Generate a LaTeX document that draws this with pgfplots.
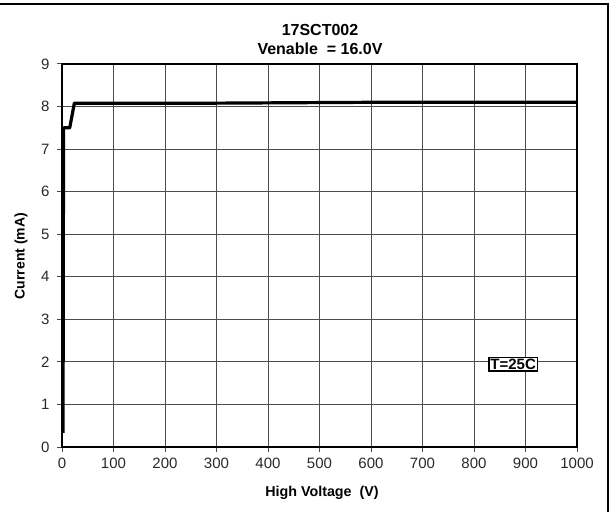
\documentclass[border=0pt]{standalone}
\usepackage{fontspec}
\setmainfont{Liberation Sans}
\usepackage{pgfplots}
\pgfplotsset{compat=1.18}
\definecolor{tickc}{RGB}{40,40,50}
\begin{document}
\begin{tikzpicture}[x=1pt,y=1pt]
\path[use as bounding box] (0,0) rectangle (613,512);
\draw[line width=1.5pt] (0,508) -- (608,508) -- (608,0);
\begin{axis}[
  at={(62pt,65pt)}, anchor=south west,
  width=515pt, height=383pt, scale only axis,
  xmin=0, xmax=1000, ymin=0, ymax=9,
  xtick={0,100,...,1000}, ytick={0,1,...,9},
  grid=major,
  major grid style={gray!60!black, line width=1pt},
  axis line style={black, line width=1.1pt},
  xtick pos=left, ytick pos=left,
  tick align=outside, major tick length=5pt,
  tick style={gray!60!black, line width=1pt},
  /pgf/number format/assume math mode=true,
  /pgf/number format/1000 sep={},
  tick label style={font=\fontsize{15}{17}\selectfont, text=tickc},
  xticklabel style={yshift=-2pt},
  yticklabel style={xshift=-4pt},
  clip=false,
]
\addplot[black, line width=3.2pt, line join=round] coordinates {
  (2,0.33) (3,7.5) (15,7.5) (24,8.08) (26,8.08) (300,8.08) (600,8.1) (1000,8.1)
};
\node[draw=black, line width=1.6pt, fill=white, inner sep=1.5pt,
  font=\fontsize{15}{17}\selectfont\bfseries] at (axis cs:876,1.94) {T=25C};
\end{axis}
\node[font=\fontsize{16}{18}\selectfont\bfseries] at (320,482) {17SCT002};
\node[font=\fontsize{16}{18}\selectfont\bfseries] at (320,463) {Venable\ \ = 16.0V};
\node[font=\fontsize{14.3}{17}\selectfont\bfseries] at (322,19) {High Voltage\ \ (V)};
\node[font=\fontsize{14}{17}\selectfont\bfseries, rotate=90] at (21,256) {Current (mA)};
\end{tikzpicture}
\end{document}
